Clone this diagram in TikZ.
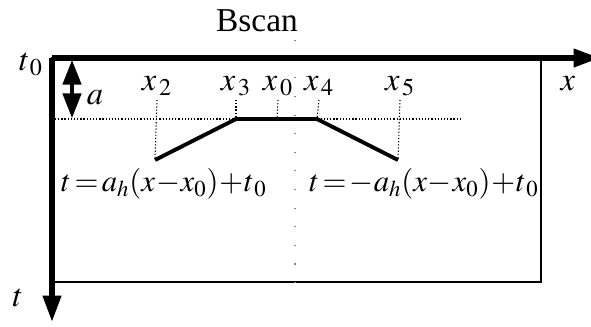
\documentclass[tikz,border=0pt]{standalone}
\usepackage{mathptmx}
\usepackage{fontspec}
\setmainfont{Liberation Serif}
\usetikzlibrary{arrows.meta}
\tikzset{
    axis/.style={line width=3pt, -{Triangle[length=15pt, width=10pt]}},
    dimarrow/.style={line width=1.8pt, {Triangle[length=14pt, width=10.5pt]}-{Triangle[length=14pt, width=10.5pt]}},
    frame/.style={line width=0.6pt},
    guide/.style={line width=0.6pt, dash pattern=on 0.7pt off 1.1pt},
    centre/.style={line width=0.6pt, gray, dash pattern=on 0.6pt off 10pt},
    trace/.style={line width=2.2pt},
    lab/.style={inner sep=0pt, font=\fontsize{18.5}{21}\selectfont},
    formula/.style={inner sep=0pt, font=\fontsize{17.5}{20}\selectfont}
}
\begin{document}
\begin{tikzpicture}[x=0.02cm, y=-0.02cm]
            \useasboundingbox (0,0) rectangle (591,326);
            \coordinate (o) at (52,58);
            \coordinate (xend) at (600,58);
            \coordinate (tend) at (52,322);
            \coordinate (corner) at (541,282);

            \node[inner sep=0pt, font=\fontsize{19}{21}\selectfont] (title) at (257,21) {Bscan};
            \node[lab] (tzero) at (31,64) {$t_{\,0}$};
            \node[lab] (tlab) at (18,298) {$t$};
            \node[lab] (xlab) at (568,84) {$x$};
            \node[lab] (alab) at (95,98) {$a$};

            \node[lab] (x2) at (157,86) {$x_{\,2}$};
            \node[lab] (x3) at (236,86) {$x_{\,3}$};
            \node[lab] (x0) at (278,86) {$x_{\,0}$};
            \node[lab] (x4) at (319,86) {$x_{\,4}$};
            \node[lab] (x5) at (400,86) {$x_{\,5}$};

            \coordinate (p2) at (155,160);
            \coordinate (p3) at (236,119);
            \coordinate (p0) at (277,119);
            \coordinate (p4) at (317,119);
            \coordinate (p5) at (398,160);

            \node[formula] (left) at (164,184) {$t\!=\!a_h(x\!-\!x_0)\!+\!t_{\,0}$};
            \node[formula] (right) at (424,184) {$t\!=\!-a_h(x\!-\!x_0)\!+\!t_{\,0}$};

            % frame and guide lines
            \draw[frame] (o) rectangle (corner);
            \draw[centre] (295,40) -- (295,300);
            \draw[guide] (55,119) -- (460,119);
            \draw[guide] (x2.south |- 0,100) -- (p2);
            \draw[guide] (x3.south |- 0,100) -- (p3);
            \draw[guide] (x0.south |- 0,100) -- (p0);
            \draw[guide] (x4.south |- 0,100) -- (p4);
            \draw[guide] (x5.south |- 0,100) -- (p5);

            \draw[trace] (p2) -- (p3) -- (p4) -- (p5);
            \draw[dimarrow] (72,60) -- (72,118);

            \draw[axis] (o) -- (xend);
            \draw[axis] (o) -- (tend);
            \end{tikzpicture}
\end{document}
